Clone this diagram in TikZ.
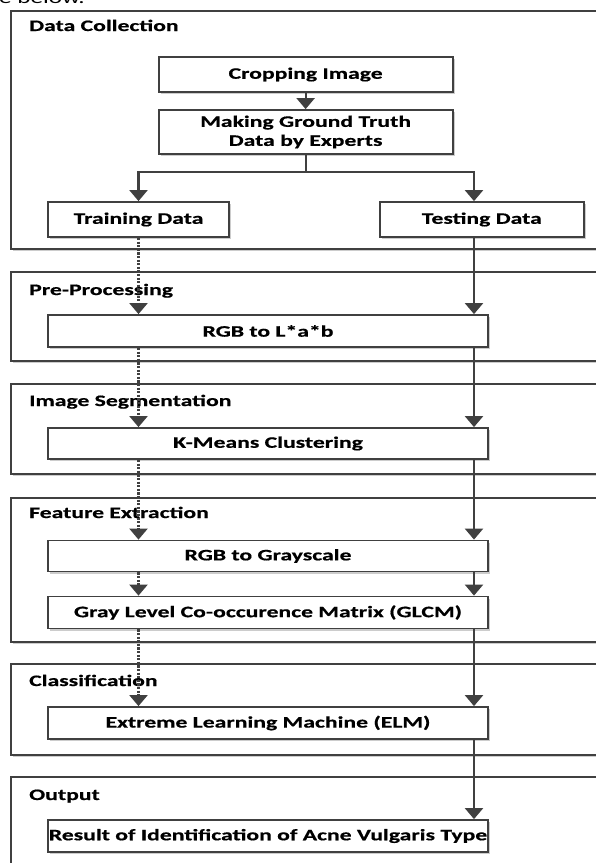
\documentclass[tikz,border=0pt]{standalone}
\usepackage{fontspec}
\setmainfont{Carlito}[FakeStretch=1.48, BoldFeatures={FakeBold=0.6}]
\usetikzlibrary{arrows.meta,shadows}

\tikzset{
	stage/.style={draw=black!75, line width=2pt, fill=white,
		drop shadow={shadow xshift=2pt, shadow yshift=-2pt, fill=black!20, opacity=1}},
	stepbox/.style={draw=black!75, line width=1.8pt, fill=white, inner sep=0pt, align=center,
		font=\bfseries\fontsize{16}{19}\selectfont,
		drop shadow={shadow xshift=2pt, shadow yshift=-2pt, fill=black!20, opacity=1}},
	stagetitle/.style={anchor=base west, inner sep=0pt, font=\bfseries\fontsize{16}{19}\selectfont},
	flow/.style={draw=black!75, line width=2.2pt, -{Triangle[width=18pt,length=11pt]}},
	trainflow/.style={flow, dash pattern=on 2.2pt off 1.4pt},
	link/.style={draw=black!75, line width=2.2pt},
}

\begin{document}
\begin{tikzpicture}[x=1pt, y=-1pt]
			%%%%% START %%%%%
			\useasboundingbox (0,0) rectangle (596,863);
			\clip (0,0) rectangle (596,863);
			
			\node[anchor=base west, inner sep=0pt, font=\fontsize{17}{20}\selectfont] (intro) at (-1,3.5) {e below.};
			
			% stage frames
			\draw[stage] (11,11) rectangle (640,249);
			\draw[stage] (11,272) rectangle (640,361);
			\draw[stage] (11,384) rectangle (640,474);
			\draw[stage] (11,498) rectangle (640,642);
			\draw[stage] (11,664) rectangle (640,755);
			\draw[stage] (11,777) rectangle (640,900);
			
			\node[stagetitle] (dctitle) at (29,31) {Data Collection};
			\node[stagetitle] (pptitle) at (29,295) {Pre-Processing};
			\node[stagetitle] (istitle) at (29,406) {Image Segmentation};
			\node[stagetitle] (fetitle) at (29,518) {Feature Extraction};
			\node[stagetitle] (cltitle) at (29,686) {Classification};
			\node[stagetitle] (outtitle) at (29,800) {Output};
			
			% steps
			\node[stepbox, minimum width=294pt, minimum height=35pt] (crop) at (305.6,74.5) {Cropping Image};
			\node[stepbox, minimum width=294pt, minimum height=44pt] (truth) at (305.6,132) {Making Ground Truth\\Data by Experts};
			\node[stepbox, minimum width=181pt, minimum height=35pt] (train) at (138.5,219.5) {Training Data};
			\node[stepbox, minimum width=204pt, minimum height=35pt] (test) at (481.8,219.5) {Testing Data};
			
			\node[stepbox, minimum width=440pt, minimum height=32pt] (lab) at (268,331) {RGB to L*a*b};
			\node[stepbox, minimum width=440pt, minimum height=31pt] (kmeans) at (268,443.5) {K-Means Clustering};
			\node[stepbox, minimum width=440pt, minimum height=31pt] (gray) at (268,556) {RGB to Grayscale};
			\node[stepbox, minimum width=440pt, minimum height=32pt] (glcm) at (268,612.5) {Gray Level Co-occurence Matrix (GLCM)};
			\node[stepbox, minimum width=440pt, minimum height=32pt] (elm) at (268,723) {Extreme Learning Machine (ELM)};
			\node[stepbox, minimum width=440pt, minimum height=32pt] (result) at (268,836) {Result of Identification of Acne Vulgaris Type};
			
			% connectors
			\coordinate (split) at (305.6,172);
			\coordinate (rx) at (474,0);
			
			\draw[flow] (crop) -- (truth);
			\draw[link] (truth.south) -- (split);
			\draw[flow] (split) -| (train.north);
			\draw[flow] (split) -| (rx |- test.north);
			
			\draw[trainflow] (train.south) -- (lab.north -| train);
			\draw[flow] (rx |- test.south) -- (rx |- lab.north);
			\foreach \a/\b in {lab/kmeans, kmeans/gray, gray/glcm, glcm/elm}{
				\draw[trainflow] (\a.south -| train) -- (\b.north -| train);
				\draw[flow] (\a.south -| rx) -- (\b.north -| rx);
			}
			\draw[flow] (elm.south -| rx) -- (result.north -| rx);
			
			%%%%% END %%%%%
\end{tikzpicture}
\end{document}
